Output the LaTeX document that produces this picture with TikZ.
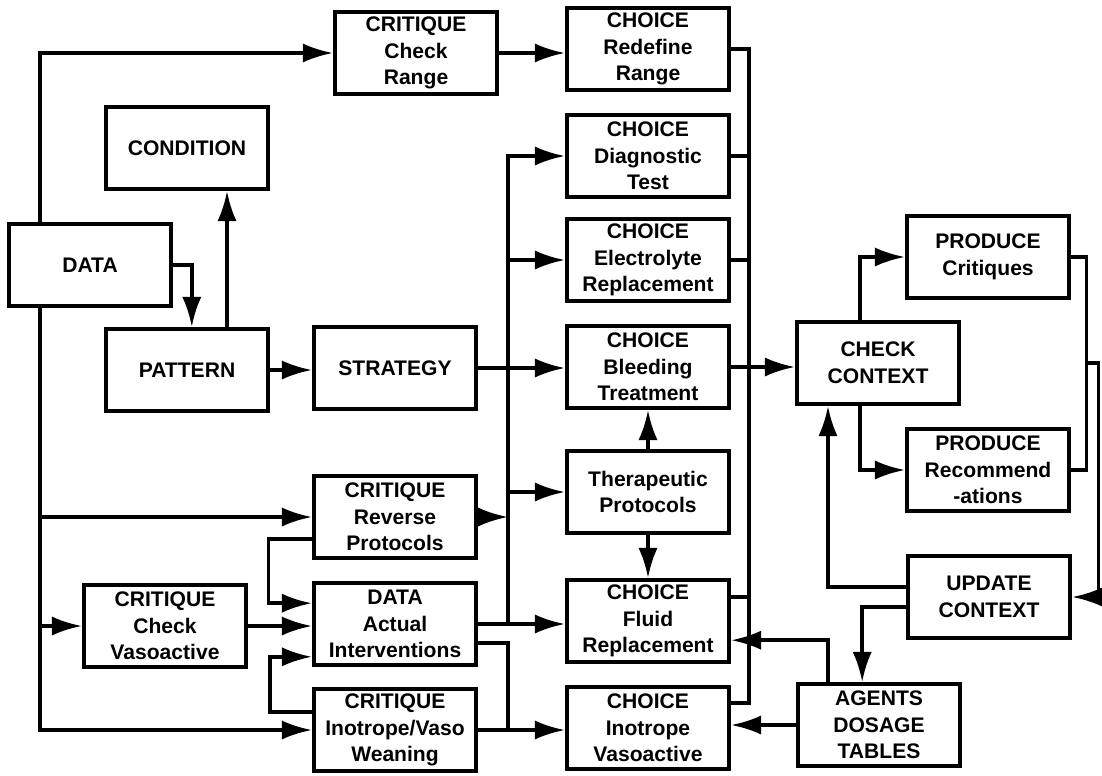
\documentclass[tikz,border=0pt]{standalone}
\usepackage{fontspec}
\setmainfont{Liberation Sans}
\usetikzlibrary{arrows.meta,positioning,calc}

\begin{document}
\begin{tikzpicture}[
    x=0.025cm, y=-0.025cm,
    block/.style={draw, line width=3pt, minimum width=4.05cm, minimum height=2.05cm,
                  align=center, inner sep=1pt, font=\bfseries\fontsize{15}{19}\selectfont},
    link/.style={line width=2.5pt},
    flow/.style={link, -{Latex[length=0.75cm, width=0.48cm]}}
]
\useasboundingbox (0,0) rectangle (1102,775);

% Left column
\node[block] (data) at (90,265) {DATA};
\node[block] (cond) at (187,148) {CONDITION};
\node[block] (patt) at (187,370) {PATTERN};
\node[block] (chkv) at (165,626) {CRITIQUE\\Check\\Vasoactive};

% Critique / strategy column
\node[block] (crng) at (416,53) {CRITIQUE\\Check\\Range};
\node[block] (strat) at (395,368) {STRATEGY};
\node[block] (rev) at (395,517) {CRITIQUE\\Reverse\\Protocols};
\node[block] (act) at (395,624) {DATA\\Actual\\Interventions};
\node[block] (wean) at (395,730) {CRITIQUE\\Inotrope/Vaso\\Weaning};

% Choice column
\node[block] (redef) at (648,49) {CHOICE\\Redefine\\Range};
\node[block] (diag) at (648,156) {CHOICE\\Diagnostic\\Test};
\node[block] (elec) at (648,260) {CHOICE\\Electrolyte\\Replacement};
\node[block] (bleed) at (648,367) {CHOICE\\Bleeding\\Treatment};
\node[block] (thera) at (648,492) {Therapeutic\\Protocols};
\node[block] (fluid) at (648,621) {CHOICE\\Fluid\\Replacement};
\node[block] (inot) at (648,728) {CHOICE\\Inotrope\\Vasoactive};

% Context column
\node[block] (chkc) at (878,363) {CHECK\\CONTEXT};
\node[block] (agents) at (879,725) {AGENTS\\DOSAGE\\TABLES};
\node[block] (pcrit) at (988,257) {PRODUCE\\Critiques};
\node[block] (prec) at (988,470) {PRODUCE\\Recommend\\-ations};
\node[block] (upd) at (989,597) {UPDATE\\CONTEXT};

\coordinate (lbus) at (40,0);
\coordinate (mbus) at (508,0);
\coordinate (rbend) at ($(inot.east)+(0.45cm,0.62cm)$);

% Data fan-out
\draw[flow] (data.north -| lbus) |- (crng.west);
\draw[flow] (crng.east) -- (crng.east -| redef.west);
\draw[flow] (data.east) -| ([xshift=0.12cm]patt.north);
\draw[flow] ([xshift=1cm]patt.north) -- ([xshift=1cm]cond.south);
\draw[flow] (patt.east) -- (patt.east -| strat.west);
\draw[flow] (data.south -| lbus) |- (wean.west);
\draw[flow] (lbus |- rev.west) -- (rev.west);
\draw[flow] (lbus |- chkv.west) -- (chkv.west);
\draw[flow] (chkv.east) -- (chkv.east -| act.west);
\draw[flow] ([yshift=-0.55cm]rev.west) -- ++(-1.08cm,0) |- ([yshift=0.52cm]act.west);
\draw[flow] ([yshift=0.45cm]wean.west) -- ++(-1.05cm,0) |- ([yshift=-0.82cm]act.west);

% Strategy bus
\draw[flow] (strat.east) -- (strat.east -| bleed.west);
\draw[flow] (act.east -| mbus) |- (diag.west);
\draw[flow] (mbus |- elec) -- (elec.west);
\draw[flow] (mbus |- thera) -- (thera.west);
\draw[flow] (rev.east) -- (mbus |- rev);
\draw[flow] (act.east) -- (act.east -| fluid.west);
\draw[link] ([yshift=-0.48cm]act.east) -| (mbus |- wean);
\draw[flow] (wean.east) -- (wean.east -| inot.west);

% Protocols
\draw[flow] (thera) -- (bleed);
\draw[flow] (thera) -- (fluid);

% Choice collector
\draw[link] (redef.east) -| (rbend) -- ([yshift=0.62cm]inot.east);
\draw[link] (diag.east) -- (diag.east -| rbend);
\draw[link] (elec.east) -- (elec.east -| rbend);
\draw[link] ([yshift=0.6cm]fluid.east) -- ++(0.45cm,0);
\draw[flow] (bleed.east) -- (bleed.east -| chkc.west);
\draw[flow] ([xshift=-1.27cm]agents.north) |- ([yshift=-0.48cm]fluid.east);
\draw[flow] (agents.west) -- (agents.west -| inot.east);

% Context loop
\draw[flow] ([xshift=-0.45cm]chkc.north) |- (pcrit.west);
\draw[flow] ([xshift=-0.45cm]chkc.south) |- (prec.west);
\draw[flow] ([yshift=0.25cm]upd.west) -| ([xshift=-1.25cm]chkc.south);
\draw[flow] ([yshift=-0.25cm]upd.west) -| ([xshift=-0.42cm]agents.north);
\draw[link] (pcrit.east) -- ++(0.38cm,0) coordinate (pb) |- (prec.east);
\draw[flow] (pb |- chkc) -- ++(0.3cm,0) |- (upd.east);

\end{tikzpicture}
\end{document}
